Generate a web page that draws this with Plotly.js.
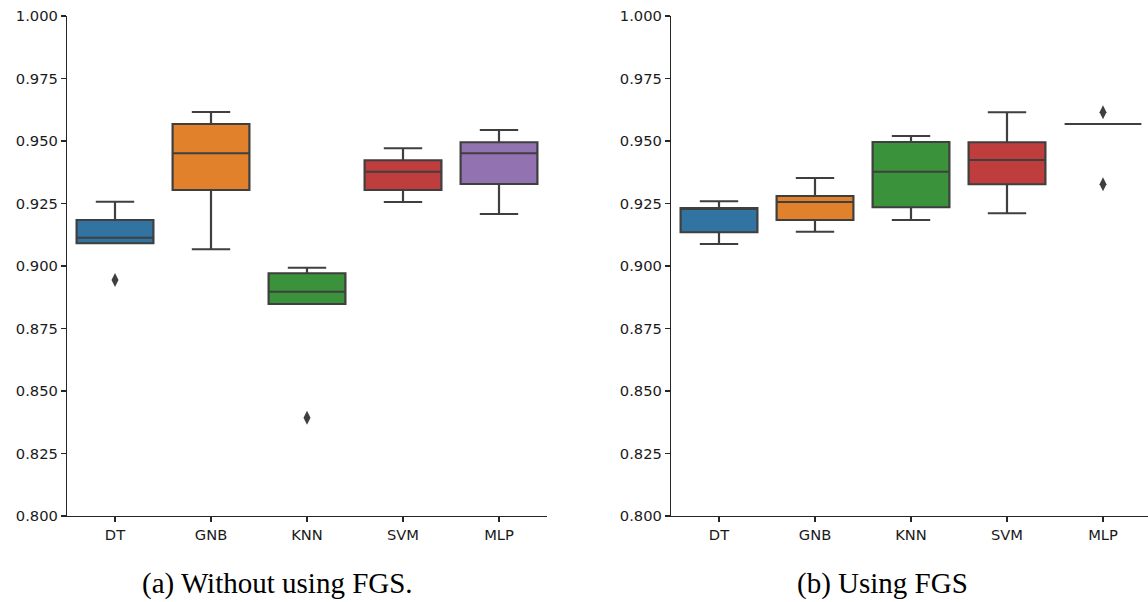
<!DOCTYPE html>
<html><head><meta charset="utf-8">
<script src="https://cdn.plot.ly/plotly-3.0.1.min.js"></script>
<style>html,body{margin:0;padding:0;background:#fff}#chart{width:1148px;height:602px}</style>
</head><body><div id="chart"></div>
<script>
const categories = ["DT", "GNB", "KNN", "SVM", "MLP"];
const colors = ["#3274a1", "#e1812c", "#3a923a", "#c03d3e", "#9372b2"];

// (a) Without using FGS
const a_lo  = [0.9091, 0.9067, 0.8848, 0.9256, 0.9208];
const a_q1  = [0.9091, 0.9304, 0.8848, 0.9304, 0.9328];
const a_med = [0.9113, 0.9451, 0.8897, 0.9377, 0.9451];
const a_q3  = [0.9184, 0.9568, 0.8971, 0.9423, 0.9495];
const a_hi  = [0.9257, 0.9616, 0.8993, 0.9471, 0.9544];
const a_outX = ["DT", "KNN"];
const a_outY = [0.8944, 0.8393];

// (b) Using FGS
const b_lo  = [0.9088, 0.9137, 0.9184, 0.9211, 0.9568];
const b_q1  = [0.9135, 0.9184, 0.9235, 0.9327, 0.9568];
const b_med = [0.9232, 0.9256, 0.9377, 0.9424, 0.9568];
const b_q3  = [0.9232, 0.9280, 0.9496, 0.9495, 0.9568];
const b_hi  = [0.9259, 0.9352, 0.9520, 0.9615, 0.9568];
const b_outX = ["MLP", "MLP"];
const b_outY = [0.9615, 0.9327];

const lineCol = "#3f3f3f";
const traces = [];
function addPanel(lo, q1, med, q3, hi, outX, outY, xa, ya) {
  categories.forEach((c, i) => {
    traces.push({
      type: "box", x: [c], q1: [q1[i]], median: [med[i]], q3: [q3[i]],
      lowerfence: [lo[i]], upperfence: [hi[i]],
      fillcolor: colors[i], line: {color: lineCol, width: 2.2},
      width: 0.8, whiskerwidth: 0.5, boxpoints: false,
      xaxis: xa, yaxis: ya, showlegend: false, hoverinfo: "skip"
    });
  });
  traces.push({
    type: "scatter", mode: "markers", x: outX, y: outY,
    marker: {symbol: "diamond-tall", size: 10, color: lineCol},
    xaxis: xa, yaxis: ya, showlegend: false, hoverinfo: "skip"
  });
}
addPanel(a_lo, a_q1, a_med, a_q3, a_hi, a_outX, a_outY, "x", "y");
addPanel(b_lo, b_q1, b_med, b_q3, b_hi, b_outX, b_outY, "x2", "y2");

const W = 1148, H = 602;
const font = {family: "DejaVu Sans", size: 14.7, color: "#1a1a1a"};
function xax(d0, d1, r1, anchor) {
  return {domain: [d0 / W, d1 / W], range: [-0.5, r1], type: "category",
    categoryorder: "array", categoryarray: categories,
    showline: true, linecolor: "#262626", linewidth: 1.2, ticks: "outside",
    ticklen: 5, tickwidth: 1.2, tickcolor: "#262626", showgrid: false,
    zeroline: false, tickfont: font, anchor: anchor, fixedrange: true};
}
function yax(anchor) {
  return {domain: [(H - 516) / H, (H - 16) / H], range: [0.8, 1.0],
    tickmode: "linear", tick0: 0.8, dtick: 0.025, tickformat: ".3f",
    showline: true, linecolor: "#262626", linewidth: 1.2, ticks: "outside",
    ticklen: 5, tickwidth: 1.2, tickcolor: "#262626", showgrid: false,
    zeroline: false, tickfont: font, anchor: anchor, fixedrange: true};
}
const capFont = {family: "Liberation Serif", size: 29, color: "#000"};
const layout = {
  width: W, height: H, margin: {l: 0, r: 0, t: 0, b: 0},
  paper_bgcolor: "#fff", plot_bgcolor: "#fff", boxmode: "overlay",
  xaxis: xax(67, 547, 4.5, "y"),
  yaxis: yax("x"),
  xaxis2: xax(671, 1148, (1148 - 671) / 96 - 0.5, "y2"),
  yaxis2: yax("x2"),
  annotations: [
    {text: "(a) Without using FGS.", xref: "paper", yref: "paper",
     x: 277 / W, y: (H - 583) / H, xanchor: "center", yanchor: "middle",
     showarrow: false, font: capFont},
    {text: "(b) Using FGS", xref: "paper", yref: "paper",
     x: 882 / W, y: (H - 583) / H, xanchor: "center", yanchor: "middle",
     showarrow: false, font: capFont}
  ]
};
Plotly.newPlot("chart", traces, layout, {displayModeBar: false, staticPlot: true});
</script></body></html>
